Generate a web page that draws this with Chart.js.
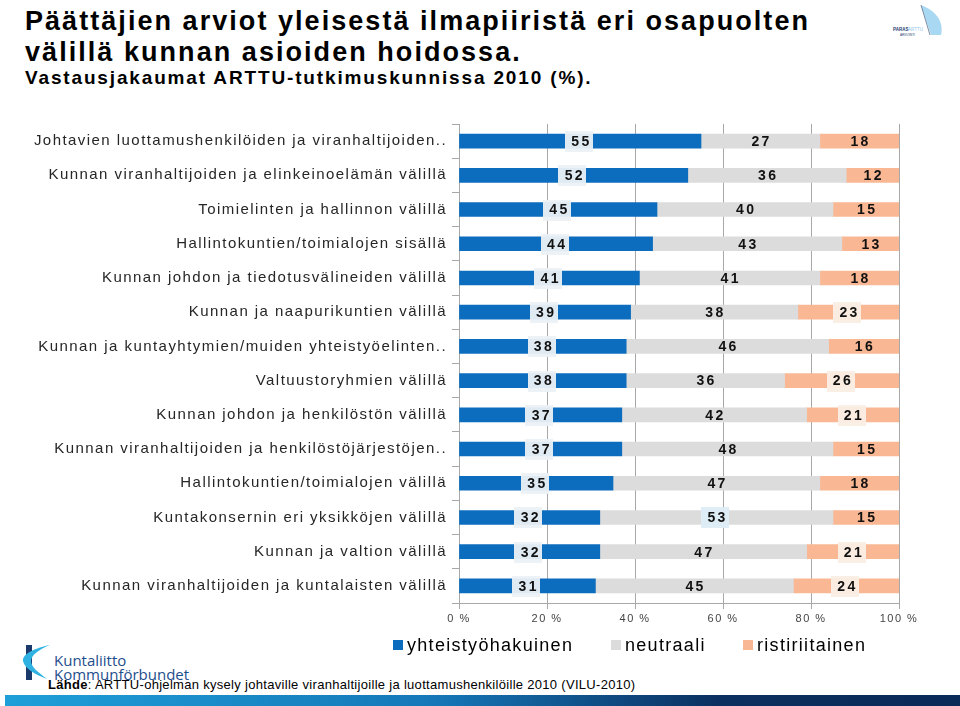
<!DOCTYPE html>
<html>
<head>
<meta charset="utf-8">
<script src="https://cdn.jsdelivr.net/npm/chart.js"></script>
<style>
  html, body { margin: 0; padding: 0; background: #fff; }
  body { width: 960px; height: 706px; position: relative; overflow: hidden; font-family: "Liberation Sans", Arial, sans-serif; }
  .t1 { position: absolute; left: 25px; font-weight: bold; font-size: 27px; letter-spacing: 2.05px; color: #000; white-space: nowrap; }
  .t2 { position: absolute; left: 25px; top: 67px; font-weight: bold; font-size: 19px; letter-spacing: 1.85px; color: #000; white-space: nowrap; }
  #chartWrap { position: absolute; left: 0; top: 110px; width: 960px; height: 530px; }
  .leg { position: absolute; top: 635px; font-size: 18px; letter-spacing: 1.3px; color: #000; white-space: nowrap; }
  .sw { display: inline-block; width: 10px; height: 10px; margin-right: 4px; vertical-align: 1px; }
  .foot { position: absolute; left: 48px; top: 677px; font-size: 13px; letter-spacing: 0.3px; color: #000; white-space: nowrap; }
  .band { position: absolute; left: 5px; right: 0; top: 695px; height: 11px; background: linear-gradient(to right, #1e9fd8 0%, #1577b8 45%, #0b2f5f 75%, #0a2a58 100%); }
  .klogo { position: absolute; left: 54px; font-family: "Open Sans", sans-serif; font-size: 15px; color: #1d4e8c; white-space: nowrap; }
</style>
</head>
<body>
<div class="t1" style="top:6px">Päättäjien arviot yleisestä ilmapiiristä eri osapuolten</div>
<div class="t1" style="top:37px">välillä kunnan asioiden hoidossa.</div>
<div class="t2">Vastausjakaumat ARTTU-tutkimuskunnissa 2010 (%).</div>

<svg style="position:absolute;left:880px;top:0" width="80" height="45" viewBox="880 0 80 45">
  <path d="M921,5 C936,11 944,21 941,35 L931,35 Z" fill="#a9d8f2"/>
  <path d="M921,5 L930,35" stroke="#5a6f8a" stroke-width="0.8" fill="none"/>
  <text x="893" y="31" font-size="4.5" font-weight="bold" fill="#23406e" font-family="Liberation Sans">PARAS</text>
  <text x="908" y="31" font-size="4.5" fill="#8fc8ea" font-family="Liberation Sans">ARTTU</text>
  <text x="900" y="36" font-size="3" fill="#23406e" font-family="Liberation Sans">ARVIOINTI</text>
</svg>

<div id="chartWrap"><canvas id="c"></canvas></div>

<div class="leg" style="left:393px"><span class="sw" style="background:#0c6dbf"></span>yhteistyöhakuinen</div>
<div class="leg" style="left:611px"><span class="sw" style="background:#dcdcdc"></span>neutraali</div>
<div class="leg" style="left:743px"><span class="sw" style="background:#f9b793"></span>ristiriitainen</div>

<svg style="position:absolute;left:15px;top:640px" width="40" height="45" viewBox="15 640 40 45">
  <rect x="26" y="645" width="6" height="35" fill="#1b3a6b"/>
  <path d="M50,645 C35,648 22,654 23,661 C24,668 36,675 47,679 C38,672 31,667 31,661 C31,655 40,649 50,645 Z" fill="#2fb2e2"/>
</svg>
<div class="klogo" style="top:650px">Kuntaliitto</div>
<div class="klogo" style="top:664px">Kommunförbundet</div>

<div class="band"></div>
<div class="foot"><b>Lähde</b>: ARTTU-ohjelman kysely johtaville viranhaltijoille ja luottamushenkilöille 2010 (VILU-2010)</div>

<script>
// ---- data ----
const categories = [
  "Johtavien luottamushenkilöiden ja viranhaltijoiden..",
  "Kunnan viranhaltijoiden ja elinkeinoelämän välillä",
  "Toimielinten ja hallinnon välillä",
  "Hallintokuntien/toimialojen sisällä",
  "Kunnan johdon ja tiedotusvälineiden välillä",
  "Kunnan ja naapurikuntien välillä",
  "Kunnan ja kuntayhtymien/muiden yhteistyöelinten..",
  "Valtuustoryhmien välillä",
  "Kunnan johdon ja henkilöstön välillä",
  "Kunnan viranhaltijoiden ja henkilöstöjärjestöjen..",
  "Hallintokuntien/toimialojen välillä",
  "Kuntakonsernin eri yksikköjen välillä",
  "Kunnan ja valtion välillä",
  "Kunnan viranhaltijoiden ja kuntalaisten välillä"
];
const seriesNames = ["yhteistyöhakuinen", "neutraali", "ristiriitainen"];
const yhteistyohakuinen = [55, 52, 45, 44, 41, 39, 38, 38, 37, 37, 35, 32, 32, 31];
const neutraali        = [27, 36, 40, 43, 41, 38, 46, 36, 42, 48, 47, 53, 47, 45];
const ristiriitainen   = [18, 12, 15, 13, 18, 23, 16, 26, 21, 15, 18, 15, 21, 24];
const xTicks = [0, 20, 40, 60, 80, 100];

// ---- styles (label boxes) ----
const labelBoxes = [
  { all: true, color: "rgba(236,241,246,0.95)" },
  { only: [11], color: "rgba(220,236,246,0.95)" },
  { only: [5, 7, 8, 12, 13], color: "rgba(250,238,228,0.95)" }
];

const dataLabelPlugin = {
  id: "dataLabels",
  afterDatasetsDraw(chart) {
    const ctx = chart.ctx;
    ctx.save();
    ctx.font = "bold 14px 'Liberation Sans', Arial, sans-serif";
    ctx.letterSpacing = "2.4px";
    ctx.textAlign = "center";
    ctx.textBaseline = "middle";
    chart.data.datasets.forEach((ds, di) => {
      const meta = chart.getDatasetMeta(di);
      const box = labelBoxes[di];
      meta.data.forEach((bar, i) => {
        const v = ds.data[i];
        const txt = String(v);
        const cx = (bar.x + bar.base) / 2;
        const cy = bar.y;
        const w = ctx.measureText(txt).width;
        if (box.all || (box.only && box.only.includes(i))) {
          ctx.fillStyle = box.color;
          ctx.fillRect(Math.round(cx - w / 2 - 5), Math.round(cy - 10), Math.round(w + 8), 21);
        }
        ctx.fillStyle = "#111";
        ctx.fillText(txt, cx + 1.2, cy + 1);
      });
    });
    ctx.restore();
  }
};

const spacingPlugin = {
  id: "spacing",
  beforeDraw(chart) { chart.ctx.letterSpacing = "1.45px"; }
};

new Chart(document.getElementById("c"), {
  type: "bar",
  data: {
    labels: categories,
    datasets: [
      { label: seriesNames[0], data: yhteistyohakuinen, backgroundColor: "#0c6dbf" },
      { label: seriesNames[1], data: neutraali, backgroundColor: "#dcdcdc" },
      { label: seriesNames[2], data: ristiriitainen, backgroundColor: "#f9b793" }
    ]
  },
  options: {
    indexAxis: "y",
    responsive: true,
    maintainAspectRatio: false,
    animation: false,
    layout: { padding: { top: 13, right: 61, bottom: 7, left: 0 } },
    datasets: { bar: { barThickness: 14 } },
    plugins: { legend: { display: false }, tooltip: { enabled: false } },
    scales: {
      x: {
        stacked: true,
        min: 0, max: 100,
        afterBuildTicks(scale) { scale.ticks = xTicks.map(v => ({ value: v })); },
        afterFit(scale) { scale.height = 30; },
        grid: { color: "#a8a8a8", lineWidth: 1, tickLength: 6, tickColor: "#a8a8a8" },
        border: { color: "#a8a8a8" },
        ticks: {
          padding: 3,
          color: "#444",
          font: { size: 11, family: "'Liberation Sans', Arial, sans-serif" },
          callback: v => v + " %"
        }
      },
      y: {
        stacked: true,
        afterFit(scale) { scale.width = 459; },
        grid: { drawOnChartArea: false, tickLength: 7, tickColor: "#a8a8a8", offset: true },
        border: { color: "#a8a8a8" },
        ticks: {
          padding: 5,
          color: "#262626",
          autoSkip: false,
          font: { size: 15, family: "'Liberation Sans', Arial, sans-serif" }
        }
      }
    }
  },
  plugins: [spacingPlugin, dataLabelPlugin]
});
</script>
</body>
</html>
